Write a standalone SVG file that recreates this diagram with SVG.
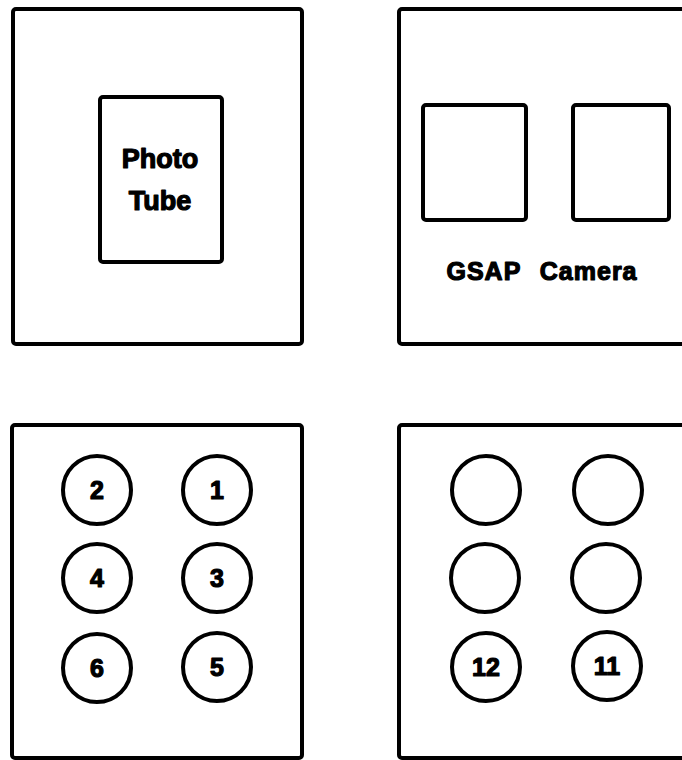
<svg xmlns="http://www.w3.org/2000/svg" width="682" height="760" viewBox="0 0 682 760">
<style>
.box{fill:none;stroke:#000;stroke-width:4;stroke-linejoin:round}
.c{fill:none;stroke:#000;stroke-width:4}
.t{font-family:"Liberation Sans",Arial,sans-serif;font-weight:bold;fill:#000;stroke:#000;stroke-width:1.2;stroke-linejoin:round;text-anchor:middle}
.n{font-size:25px}
</style>
<rect width="682" height="760" fill="#fff"/>
<g id="photo-tube-panel">
<rect class="box" x="13" y="9" width="289" height="335" rx="3"/>
<g id="photo-tube">
<rect class="box" x="100" y="97" width="122" height="165" rx="3"/>
<text class="t" x="160" y="168" font-size="27">Photo</text>
<text class="t" x="160" y="210" font-size="27">Tube</text>
</g>
</g>
<g id="gsap-camera-panel">
<rect class="box" x="399" y="9" width="295" height="335" rx="3"/>
<rect class="box" x="423" y="105" width="103" height="115" rx="3"/>
<rect class="box" x="573" y="105" width="96" height="115" rx="3"/>
<text class="t" x="542" y="280" font-size="25" letter-spacing="1" word-spacing="11">GSAP Camera</text>
</g>
<g id="tubes-1-6">
<rect class="box" x="12" y="425" width="290" height="333" rx="3"/>
<g id="tube-2"><circle class="c" cx="97" cy="490" r="34"/><text class="t n" x="97" y="499">2</text></g>
<g id="tube-1"><circle class="c" cx="217" cy="490" r="34"/><text class="t n" x="217" y="499">1</text></g>
<g id="tube-4"><circle class="c" cx="97" cy="578" r="34"/><text class="t n" x="97" y="587">4</text></g>
<g id="tube-3"><circle class="c" cx="217" cy="578" r="34"/><text class="t n" x="217" y="587">3</text></g>
<g id="tube-6"><circle class="c" cx="97" cy="668" r="34"/><text class="t n" x="97" y="677">6</text></g>
<g id="tube-5"><circle class="c" cx="217" cy="667" r="34"/><text class="t n" x="217" y="676">5</text></g>
</g>
<g id="tubes-7-12">
<rect class="box" x="399" y="425" width="295" height="333" rx="3"/>
<g id="tube-a"><circle class="c" cx="486" cy="490" r="34"/></g>
<g id="tube-b"><circle class="c" cx="608" cy="490" r="34"/></g>
<g id="tube-c"><circle class="c" cx="485" cy="578" r="34"/></g>
<g id="tube-d"><circle class="c" cx="606" cy="578" r="34"/></g>
<g id="tube-12"><circle class="c" cx="486" cy="667" r="34"/><text class="t n" x="486" y="676">12</text></g>
<g id="tube-11"><circle class="c" cx="607" cy="666" r="34"/><text class="t n" x="607" y="675">11</text></g>
</g>
</svg>
